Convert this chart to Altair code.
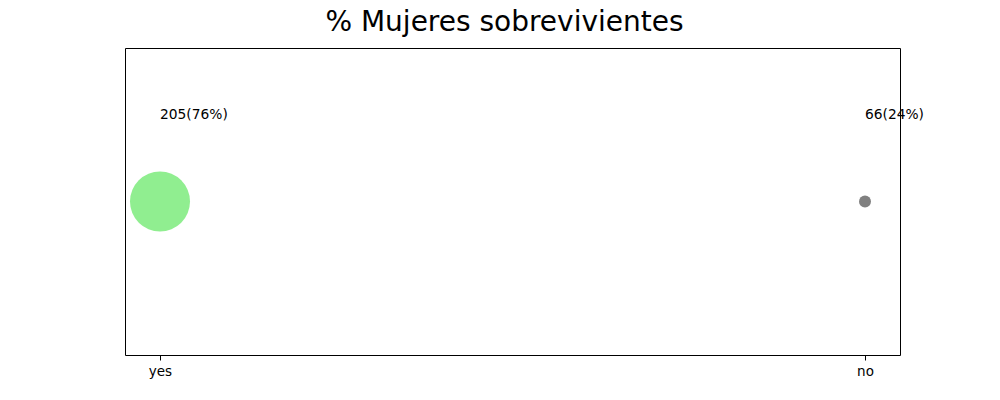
import altair as alt
import pandas as pd

categories = ["yes", "no"]
counts = [205, 66]
percents = [76, 24]
colors = ["#90EE90", "#808080"]

df = pd.DataFrame({
    "cat": categories,
    "count": counts,
    "label": [f"{c}({p}%)" for c, p in zip(counts, percents)],
    "color": colors,
    "y": [0, 0],
    "ty": [0.565, 0.565],
})

x = alt.X("cat:N", sort=categories,
          scale=alt.Scale(type="point", padding=35 / 705),
          axis=alt.Axis(title=None, labelAngle=0, domain=False, grid=False,
                        ticks=True, tickColor="black", tickSize=5,
                        labelColor="black", labelFontSize=13.5, labelFont="DejaVu Sans",
                        labelPadding=4))
ysc = alt.Scale(domain=[-1, 1])

points = alt.Chart(df).mark_circle(opacity=1).encode(
    x=x,
    y=alt.Y("y:Q", scale=ysc, axis=None),
    size=alt.Size("count:Q", scale=alt.Scale(domain=[66, 205], range=[144, 3600]), legend=None),
    color=alt.Color("color:N", scale=None),
)

texts = alt.Chart(df).mark_text(align="left", baseline="middle", fontSize=13.8,
                                font="DejaVu Sans", color="black").encode(
    x=alt.X("cat:N", sort=categories, scale=alt.Scale(type="point", padding=35 / 705)),
    y=alt.Y("ty:Q", scale=ysc, axis=None),
    text="label:N",
)

chart = alt.layer(points, texts).properties(
    width=775, height=307,
    title=alt.TitleParams("% Mujeres sobrevivientes", fontSize=28, font="DejaVu Sans",
                          fontWeight="normal", anchor="middle", color="black", offset=11,
                          dx=-8),
    padding={"left": 125, "top": 48, "right": 100, "bottom": 45},
    autosize="none",
).configure_view(stroke="black", strokeWidth=1)

chart.save("out.html", embed_options={"renderer": "svg", "actions": False})
